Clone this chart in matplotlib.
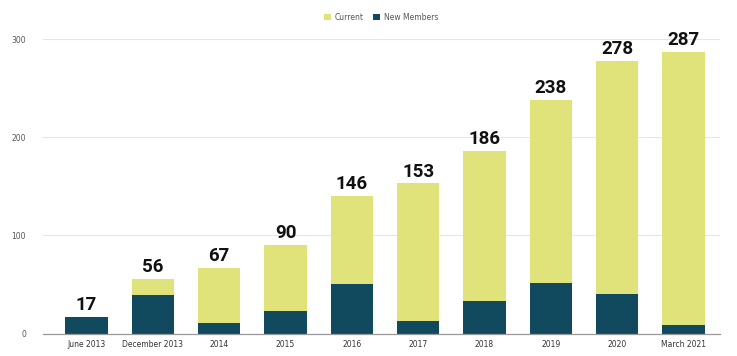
import numpy as np
import matplotlib.pyplot as plt

# membership by period
periods = ["June 2013", "December 2013", "2014", "2015", "2016",
           "2017", "2018", "2019", "2020", "March 2021"]
new_members = [17, 39, 11, 23, 50, 13, 33, 52, 40, 9]
current = [0, 17, 56, 67, 90, 140, 153, 186, 238, 278]
total_labels = ["17", "56", "67", "90", "146", "153", "186", "238", "278", "287"]

teal = "#114a5f"
yellow = "#e0e27a"

fig = plt.figure(figsize=(7.37, 3.56), dpi=100)
ax = fig.add_axes([0.058, 0.0632, 0.919, 0.8264])

x = np.arange(len(periods))
w = 0.64
ax.bar(x, new_members, w, color=teal, label="New Members", zorder=3)
ax.bar(x, current, w, bottom=new_members, color=yellow, label="Current", zorder=3)

tops = np.array(new_members) + np.array(current)
for xi, top, lab in zip(x, tops, total_labels):
    ax.text(xi, top + 3, lab, ha="center", va="bottom", fontsize=13.5,
            fontweight="bold", fontstretch="condensed",
            family=["Roboto", "DejaVu Sans"], color="#111111")

ax.set_ylim(0, 300)
ax.set_xlim(-0.66, 9.55)
ax.set_yticks([0, 100, 200, 300])
ax.grid(axis="y", color="#e6e6e6", linewidth=0.8, zorder=0)
for s in ["top", "right", "left"]:
    ax.spines[s].set_visible(False)
ax.spines["bottom"].set_color("#999999")
ax.spines["bottom"].set_linewidth(0.9)
ax.spines["bottom"].set_zorder(4)
ax.tick_params(axis="y", length=0, labelsize=5.5, labelcolor="#555555", pad=12)
ax.tick_params(axis="x", length=0, labelsize=5.5, labelcolor="#333333", pad=5)
ax.set_xticks(x)
ax.set_xticklabels(periods)

handles, labels = ax.get_legend_handles_labels()
fig.legend(handles[::-1], labels[::-1], loc="center", bbox_to_anchor=(0.517, 0.952),
           ncol=2, frameon=False, fontsize=5.5, handlelength=0.9, handleheight=0.9,
           columnspacing=1.2, handletextpad=0.5, labelcolor="#555555")

fig.savefig("out.png", dpi=100)
